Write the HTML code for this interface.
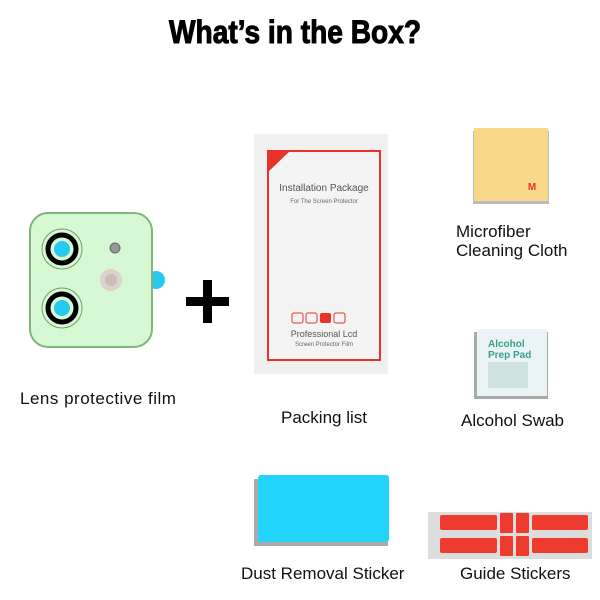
<!DOCTYPE html>
<html><head><meta charset="utf-8"><style>
body{margin:0;width:600px;height:600px;background:#fff;position:relative;overflow:hidden;font-family:"Liberation Sans",sans-serif}
.a{position:absolute}
.lbl{position:absolute;font-size:17px;color:#111;white-space:nowrap}
</style></head><body>
<svg class="a" style="left:0;top:0" width="600" height="600">
<text x="169" y="43" font-size="32" font-weight="bold" textLength="252" lengthAdjust="spacingAndGlyphs" font-family="Liberation Sans" stroke="#000" stroke-width="1">What’s in the Box?</text>
<circle cx="156" cy="280" r="9" fill="#27c9f2"/>
<rect x="30" y="213" width="122" height="134" rx="18" fill="#d6f8d3" stroke="#7fb57a" stroke-width="2"/>
<circle cx="62" cy="249" r="20" fill="#d6f8d3" stroke="#6f9f6b" stroke-width="1"/>
<circle cx="62" cy="249" r="14" fill="none" stroke="#000" stroke-width="5"/>
<circle cx="62" cy="249" r="8" fill="#27c9f2"/>
<circle cx="62" cy="308" r="20" fill="#d6f8d3" stroke="#6f9f6b" stroke-width="1"/>
<circle cx="62" cy="308" r="14" fill="none" stroke="#000" stroke-width="5"/>
<circle cx="62" cy="308" r="8" fill="#27c9f2"/>
<circle cx="115" cy="248" r="5" fill="#999" stroke="#666"/>
<circle cx="111" cy="280" r="11" fill="#dcd2cc"/>
<circle cx="111" cy="280" r="6" fill="#cbbdb5"/>
<rect x="186" y="297" width="43" height="9" fill="#000"/>
<rect x="203" y="280" width="9" height="43" fill="#000"/>
<rect x="254" y="134" width="134" height="240" fill="#f0f0f0"/>
<rect x="268" y="151" width="112" height="209" fill="#f4f4f4" stroke="#e8332a" stroke-width="2"/>
<polygon points="268,151 290,151 268,172" fill="#e8332a"/>
<text x="324" y="191" font-size="10" fill="#555" text-anchor="middle">Installation Package</text>
<text x="324" y="203" font-size="6" fill="#666" text-anchor="middle">For The Screen Protector</text>
<rect x="292" y="313" width="11" height="10" rx="2" fill="none" stroke="#e8332a"/>
<rect x="306" y="313" width="11" height="10" rx="2" fill="none" stroke="#e8332a"/>
<rect x="320" y="313" width="11" height="10" rx="2" fill="#e8332a"/>
<rect x="334" y="313" width="11" height="10" rx="2" fill="none" stroke="#e8332a"/>
<text x="324" y="337" font-size="9" fill="#555" text-anchor="middle">Professional Lcd</text>
<text x="324" y="346" font-size="6" fill="#666" text-anchor="middle">Screen Protector Film</text>
<rect x="473" y="131" width="76" height="73" fill="#bbb"/>
<rect x="474" y="128" width="74" height="73" fill="#fad88a"/>
<text x="532" y="190" font-size="10" font-weight="bold" fill="#e8332a" text-anchor="middle">M</text>
<rect x="474" y="332" width="74" height="67" fill="#aaa"/>
<rect x="477" y="329" width="70" height="67" fill="#eaf3f6"/>
<text x="488" y="347" font-size="10" font-weight="bold" fill="#3a9f8a">Alcohol</text>
<text x="488" y="358" font-size="10" font-weight="bold" fill="#3a9f8a">Prep Pad</text>
<rect x="488" y="362" width="40" height="26" fill="#cfe3e0"/>
<rect x="254" y="479" width="134" height="67" fill="#aaa"/>
<rect x="258" y="475" width="131" height="67" rx="3" fill="#22d3fb"/>
<rect x="428" y="512" width="164" height="47" fill="#ddd"/>
<g fill="#ee3b30">
<rect x="440" y="515" width="57" height="15" rx="2"/><rect x="440" y="538" width="57" height="15" rx="2"/>
<rect x="500" y="513" width="13" height="20" rx="1"/><rect x="500" y="536" width="13" height="20" rx="1"/>
<rect x="516" y="513" width="13" height="20" rx="1"/><rect x="516" y="536" width="13" height="20" rx="1"/>
<rect x="532" y="515" width="56" height="15" rx="2"/><rect x="532" y="538" width="56" height="15" rx="2"/>
</g>
</svg>
<div class="lbl" style="left:20px;top:389px;letter-spacing:0.5px">Lens protective film</div>
<div class="lbl" style="left:281px;top:408px">Packing list</div>
<div class="lbl" style="left:456px;top:222px">Microfiber</div>
<div class="lbl" style="left:456px;top:241px">Cleaning Cloth</div>
<div class="lbl" style="left:461px;top:411px">Alcohol Swab</div>
<div class="lbl" style="left:241px;top:564px">Dust Removal Sticker</div>
<div class="lbl" style="left:460px;top:564px">Guide Stickers</div>
</body></html>
